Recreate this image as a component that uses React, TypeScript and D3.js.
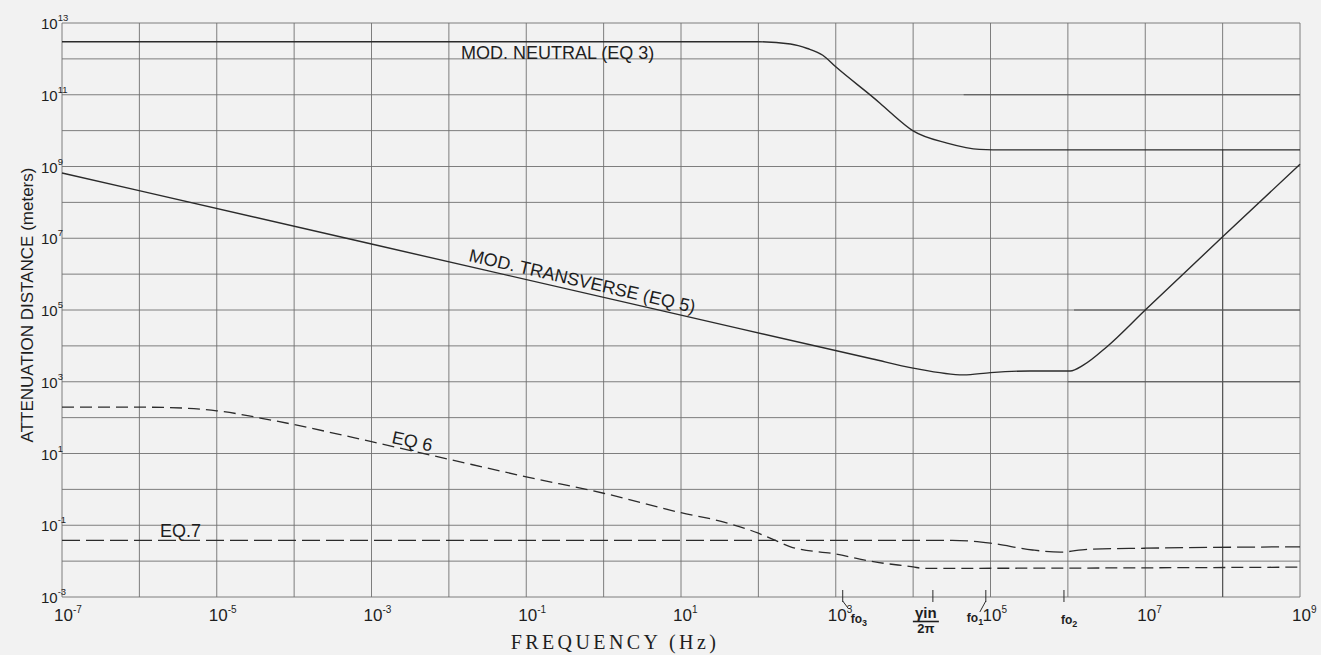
import React from "react";
import * as d3 from "d3";

// MOD. NEUTRAL (EQ 3)
const neutralFreq = [1e-7, 1e2, 2.6e2, 4.3e2, 6.8e2, 1e3, 3.7e3, 5e3, 1e4, 2.75e4, 7.2e4, 1.6e5, 1e9];
const neutralDist = [3.0e12, 3.0e12, 2.6e12, 1.95e12, 1.26e12, 6.0e11, 5.9e10, 3.3e10, 9.8e9, 4.5e9, 3.0e9, 2.9e9, 2.9e9];

// MOD. TRANSVERSE (EQ 5)
const transFreq = [1e-7, 1e-3, 1e1, 3e3, 1e4, 4.5e4, 1e5, 3.2e5, 1.07e6, 1.6e6, 3.2e6, 1e7, 1e8, 1e9];
const transDist = [6.6e8, 6.9e6, 7.2e4, 4.3e3, 2.4e3, 1.55e3, 1.8e3, 2.0e3, 2.0e3, 2.95e3, 9.5e3, 1e5, 1.1e7, 1.15e9];

// EQ 6
const eq6Freq = [1e-7, 1.26e-6, 4.2e-6, 1e-5, 5.1e-5, 1e-3, 1e-2, 1e-1, 1, 10, 34, 100, 160, 260, 1e3, 3.2e3, 1e4, 1.35e4, 1e9];
const eq6Dist = [195, 195, 182, 155, 85, 21.4, 6.9, 2.24, 0.78, 0.224, 0.126, 0.06, 0.039, 0.025, 0.0158, 0.0095, 0.0069, 0.0063, 0.0068];

// EQ 7
const eq7Freq = [1e-7, 3.2e4, 1e5, 3.5e5, 8e5, 1.8e6, 1e7, 1e9];
const eq7Dist = [0.038, 0.038, 0.0316, 0.0204, 0.0178, 0.0214, 0.0229, 0.0251];

const xTickExps = ["-7", "-5", "-3", "-1", "1", "3", "5", "7", "9"];
const yTickExps = ["-3", "-1", "1", "3", "5", "7", "9", "11", "13"];

// special frequencies marked under the axis
const markers = [
  { name: "fo3", f: 1.23e3 },
  { name: "gamma", f: 1.8e4 },
  { name: "fo1", f: 8.7e4 },
  { name: "fo2", f: 8.9e5 },
];

// heavier guide segments on the grid
const hGuides = [
  { d: 1e11, f0: 4.5e4, f1: 1e9 },
  { d: 1e5, f0: 1.2e6, f1: 1e9 },
  { d: 1e3, f0: 1e6, f1: 1e9 },
];
const vGuides = [{ f: 1e8, d0: 1e-3, d1: 3e9 }];

const ink = "#2b2b2b";
const sans = "'Liberation Sans', Arial, sans-serif";

export default function App() {
  const x = d3.scaleLog().domain([1e-7, 1e9]).range([62, 1300]);
  const y = d3.scaleLog().domain([1e-3, 1e13]).range([597, 23]);

  const path = (fs: number[], ds: number[]) =>
    d3
      .line<number>()
      .x((f) => x(f))
      .y((_, i) => y(ds[i]))
      .curve(d3.curveMonotoneX)(fs) as string;

  const xDecades = d3.range(-7, 10).map((e) => Math.pow(10, e));
  const yDecades = d3.range(-3, 14).map((e) => Math.pow(10, e));

  const mx = (n: string) => x(markers.find((m) => m.name === n)!.f);

  return (
    <div style={{ position: "absolute", left: 0, top: 0 }}>
      <svg width={1321} height={655} style={{ display: "block" }}>
        <rect width={1321} height={655} fill="#f2f2f2" />

        {/* grid */}
        <g stroke="#707070" strokeWidth={0.9}>
          {xDecades.map((v, i) => (
            <line key={"gx" + i} x1={x(v)} x2={x(v)} y1={y(1e13)} y2={y(1e-3)} />
          ))}
          {yDecades.map((v, i) => (
            <line key={"gy" + i} x1={x(1e-7)} x2={x(1e9)} y1={y(v)} y2={y(v)} />
          ))}
        </g>
        <g stroke="#555" strokeWidth={1.15}>
          {hGuides.map((g, i) => (
            <line key={"hg" + i} x1={x(g.f0)} x2={x(g.f1)} y1={y(g.d)} y2={y(g.d)} />
          ))}
          {vGuides.map((g, i) => (
            <line key={"vg" + i} x1={x(g.f)} x2={x(g.f)} y1={y(g.d0)} y2={y(g.d1)} />
          ))}
        </g>

        {/* curves */}
        <g fill="none" stroke={ink}>
          <path d={path(neutralFreq, neutralDist)} strokeWidth={1.4} />
          <path d={path(transFreq, transDist)} strokeWidth={1.4} />
          <path d={path(eq6Freq, eq6Dist)} strokeWidth={1.3} strokeDasharray="12 6" />
          <path d={path(eq7Freq, eq7Dist)} strokeWidth={1.3} strokeDasharray="18 6" />
        </g>

        {/* curve labels */}
        <g fontFamily={sans} fontSize={18} fill="#1e1e1e">
          <text x={461} y={59}>MOD. NEUTRAL (EQ 3)</text>
          <text transform="translate(468,261) rotate(13)">MOD. TRANSVERSE (EQ 5)</text>
          <text transform="translate(391,443) rotate(12)">EQ 6</text>
          <text x={160} y={537}>EQ.7</text>
        </g>

        {/* y tick labels */}
        <g fontFamily={sans} fontSize={15} fill="#1e1e1e">
          {yTickExps.map((e) => (
            <text key={"yl" + e} x={41} y={y(Math.pow(10, +e)) + 6}>
              10
              <tspan dy={-8} fontSize={9.5}>
                {e}
              </tspan>
            </text>
          ))}
        </g>

        {/* x tick labels */}
        <g fontFamily={sans} fontSize={17} fill="#1e1e1e">
          {xTickExps.map((e) => (
            <text key={"xl" + e} x={x(Math.pow(10, +e)) - 8} y={621}>
              10
              <tspan dy={-8} fontSize={10}>
                {e}
              </tspan>
            </text>
          ))}
        </g>

        {/* marker ticks under the axis */}
        <g stroke={ink} strokeWidth={1}>
          {markers.map((m) => (
            <line key={m.name} x1={x(m.f)} x2={x(m.f)} y1={590} y2={602} />
          ))}
          <line x1={mx("fo3")} y1={601} x2={mx("fo3") + 6} y2={609} />
          <line x1={mx("fo1")} y1={601} x2={mx("fo1") - 6} y2={612} />
        </g>
        <g fontFamily={sans} fontWeight="bold" fill="#1e1e1e">
          <text x={mx("fo3") + 8} y={623} fontSize={12}>
            fo<tspan dy={3} fontSize={9}>3</tspan>
          </text>
          <text x={mx("gamma") - 7} y={618} fontSize={15} textAnchor="middle">
            γin
          </text>
          <line x1={mx("gamma") - 20} x2={mx("gamma") + 6} y1={621.5} y2={621.5} stroke="#1e1e1e" strokeWidth={1.6} />
          <text x={mx("gamma") - 7} y={633} fontSize={13} textAnchor="middle">
            2π
          </text>
          <text x={mx("fo1") - 19} y={622} fontSize={12}>
            fo<tspan dy={3} fontSize={9}>1</tspan>
          </text>
          <text x={mx("fo2") - 3} y={624} fontSize={12}>
            fo<tspan dy={3} fontSize={9}>2</tspan>
          </text>
        </g>

        {/* axis titles */}
        <text
          x={615}
          y={649}
          textAnchor="middle"
          fontFamily="'Liberation Serif', 'Times New Roman', serif"
          fontSize={20}
          letterSpacing={3.4}
          fill="#1e1e1e"
        >
          FREQUENCY (Hz)
        </text>
        <text
          transform="translate(33,305) rotate(-90)"
          textAnchor="middle"
          fontFamily={sans}
          fontSize={17}
          fill="#1e1e1e"
        >
          ATTENUATION DISTANCE (meters)
        </text>
      </svg>
    </div>
  );
}
